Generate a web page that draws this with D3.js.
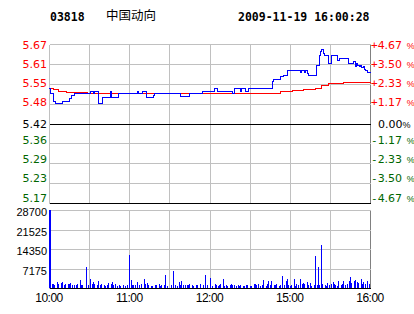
<!DOCTYPE html>
<html>
<head>
<meta charset="utf-8">
<script src="https://cdn.jsdelivr.net/npm/d3@7"></script>
<style>
  body { margin: 0; background: #fff; }
  svg { display: block; }
</style>
</head>
<body>
<div id="chart"></div>
<script>
const stockCode = "03818";
const stockName = "中国动向";
const stamp = "2009-11-19 16:00:28";
const prevClose = 5.42;

const pctTicks = [4.67, 3.50, 2.33, 1.17, 0, -1.17, -2.33, -3.50, -4.67];
const priceLabels = ["5.67", "5.61", "5.55", "5.48", "5.42", "5.36", "5.29", "5.23", "5.17"];
const pctLabels = ["4.67", "3.50", "2.33", "1.17", "0.00", "1.17", "2.33", "3.50", "4.67"];
const volTicks = [7175, 14350, 21525, 28700];
const timeTicks = [0, 60, 120, 180, 240];
const timeLabels = ["10:00", "11:00", "12:00", "15:00", "16:00"];

// [trading minute, price]
const price = [
  [0, 5.530], [1, 5.517], [3, 5.490], [5, 5.485], [10, 5.490], [15, 5.500], [17, 5.508],
  [19, 5.515], [31, 5.522], [33, 5.515], [34, 5.522], [37, 5.485], [40, 5.504], [46, 5.522],
  [47, 5.504], [52, 5.515], [66, 5.522], [67, 5.515], [70, 5.522], [73, 5.504], [78, 5.508],
  [79, 5.515], [98, 5.506], [105, 5.515], [115, 5.522], [124, 5.533], [126, 5.522], [137, 5.515],
  [139, 5.530], [143, 5.522], [144, 5.533], [147, 5.522], [149, 5.533], [167, 5.554], [168, 5.561],
  [173, 5.570], [175, 5.572], [178, 5.590], [188, 5.582], [189, 5.590], [191, 5.582], [192, 5.590],
  [193, 5.580], [194, 5.572], [200, 5.606], [202, 5.638], [203, 5.649], [204, 5.656], [205, 5.644],
  [206, 5.635], [209, 5.612], [211, 5.638], [216, 5.620], [217, 5.628], [224, 5.610], [228, 5.617],
  [229, 5.603], [230, 5.610], [231, 5.606], [232, 5.601], [233, 5.606], [234, 5.599], [235, 5.603],
  [236, 5.593], [237, 5.589], [238, 5.582], [240, 5.580]
];

const avgPrice = [
  [0, 5.532], [3, 5.527], [7, 5.523], [13, 5.520], [29, 5.517], [96, 5.514], [125, 5.517],
  [173, 5.522], [182, 5.524], [190, 5.527], [199, 5.532], [204, 5.540], [209, 5.546],
  [220, 5.549], [240, 5.551]
];

// [trading minute, shares]
const volume = [
  [0, 28700], [2, 1600], [3, 1600], [4, 1200], [6, 2200], [7, 1500], [9, 1800], [10, 2200],
  [11, 1200], [12, 1600], [14, 1500], [15, 1500], [16, 1800], [17, 1200], [19, 1200], [20, 1200],
  [21, 1500], [23, 3000], [24, 1200], [25, 1200], [28, 7800], [29, 1200], [31, 3400], [32, 1500],
  [33, 2200], [34, 1500], [36, 1200], [37, 2700], [38, 1200], [39, 1500], [41, 1200], [42, 600],
  [43, 1200], [44, 1800], [46, 1500], [47, 2200], [48, 1200], [49, 1500], [51, 900], [52, 1200],
  [53, 600], [55, 1200], [57, 600], [58, 1200], [60, 12000], [61, 3000], [62, 1200], [63, 1200],
  [64, 1200], [66, 2200], [67, 1200], [69, 1500], [71, 3400], [72, 1500], [73, 1800], [74, 1200],
  [76, 900], [77, 900], [79, 1200], [80, 1200], [82, 1500], [83, 900], [84, 1200], [86, 1200],
  [87, 4900], [88, 900], [91, 1200], [93, 6400], [94, 1200], [96, 900], [97, 2200], [98, 1200],
  [99, 2700], [100, 1200], [102, 1200], [103, 1200], [104, 1000], [105, 1500], [107, 1200],
  [108, 900], [110, 1200], [111, 1200], [113, 1500], [115, 1200], [117, 4900], [118, 1200],
  [120, 3700], [122, 900], [124, 1500], [125, 1200], [126, 900], [127, 1200], [128, 1500],
  [130, 3400], [131, 900], [132, 1200], [133, 900], [135, 1200], [136, 1500], [137, 1200],
  [138, 1200], [140, 900], [141, 1200], [142, 900], [143, 1200], [145, 900], [146, 900],
  [147, 1200], [148, 1200], [150, 900], [151, 900], [153, 1500], [154, 1500], [155, 1200],
  [156, 1500], [158, 900], [159, 1200], [160, 3000], [162, 900], [163, 1500], [164, 2500],
  [165, 1200], [166, 2700], [168, 1200], [169, 1200], [170, 1500], [172, 900], [173, 1200],
  [174, 4300], [176, 1200], [177, 2700], [178, 3400], [179, 1200], [180, 900], [181, 1200],
  [183, 3400], [184, 900], [185, 1500], [186, 1200], [188, 3400], [189, 1500], [190, 1700],
  [191, 1500], [193, 2200], [194, 1200], [195, 1800], [196, 900], [198, 1200], [199, 11600],
  [200, 1200], [201, 7600], [202, 1200], [203, 15900], [204, 1500], [206, 1200], [207, 900],
  [208, 1800], [209, 1200], [211, 1500], [212, 2200], [213, 1500], [214, 1200], [215, 900],
  [216, 2700], [218, 1200], [219, 1500], [220, 2500], [221, 1200], [223, 1500], [224, 2700],
  [225, 3900], [226, 1800], [228, 2500], [229, 3000], [230, 2200], [231, 1700], [233, 3400],
  [234, 1500], [235, 2200], [236, 1500], [238, 2700], [239, 1500]
];

const width = 414;
const height = 314;

const svg = d3.select("#chart")
  .append("svg")
  .attr("width", width)
  .attr("height", height);

const x = d3.scaleLinear().domain([0, 240]).range([49, 370]);
const y = d3.scaleLinear()
  .domain([prevClose * (1 - 0.0467), prevClose * (1 + 0.0467)])
  .range([203, 44]);
const yv = d3.scaleLinear().domain([0, 28700]).range([288, 210]);
// tick labels sit on an even spacing of their own
const labelY = d3.scaleLinear().domain([4.67, -4.67]).range([45, 197.5]);

const px = v => Math.round(v) + 0.5;
const pctPrice = p => prevClose * (1 + p / 100);
const tone = p => p > 0 ? "#ff0000" : p < 0 ? "#006600" : "#000000";

// header
svg.append("text")
  .attr("x", 50).attr("y", 20.5)
  .attr("font-family", "DejaVu Sans Mono").attr("font-weight", "bold").attr("font-size", 11.5)
  .text(stockCode);
svg.append("text")
  .attr("x", 106).attr("y", 19.5)
  .attr("font-family", "Noto Sans CJK SC").attr("font-size", 12.5)
  .text(stockName);
svg.append("text")
  .attr("x", 238).attr("y", 20.5)
  .attr("font-family", "DejaVu Sans Mono").attr("font-weight", "bold").attr("font-size", 11.5)
  .text(stamp);

const grid = svg.append("g").attr("shape-rendering", "crispEdges");
const vLines = d3.range(0, 241, 30);

// price panel grid
grid.selectAll(".pv").data(vLines).join("line")
  .attr("x1", d => px(x(d))).attr("x2", d => px(x(d)))
  .attr("y1", px(y.range()[1])).attr("y2", px(y.range()[0]))
  .attr("stroke", d => d === 240 ? "#808080" : "#c0c0c0");
grid.selectAll(".ph").data(pctTicks).join("line")
  .attr("x1", px(x(0))).attr("x2", px(x(240)))
  .attr("y1", d => px(y(pctPrice(d)))).attr("y2", d => px(y(pctPrice(d))))
  .attr("stroke", d => (d === 0 || d === -4.67) ? "#000000" : "#c0c0c0");

// volume panel grid
grid.selectAll(".vv").data(vLines).join("line")
  .attr("x1", d => px(x(d))).attr("x2", d => px(x(d)))
  .attr("y1", px(yv(28700))).attr("y2", px(yv(0)))
  .attr("stroke", d => d === 240 ? "#808080" : "#c0c0c0");
grid.selectAll(".vh").data([0].concat(volTicks)).join("line")
  .attr("x1", px(x(0))).attr("x2", px(x(240)))
  .attr("y1", d => px(yv(d))).attr("y2", d => px(yv(d)))
  .attr("stroke", d => d === 0 ? "#000000" : "#c0c0c0");

// volume bars
svg.append("g").attr("shape-rendering", "crispEdges")
  .selectAll("rect").data(volume).join("rect")
  .attr("x", d => Math.round(x(d[0])))
  .attr("width", d => d[0] === 0 ? 2 : 1)
  .attr("y", d => yv(d[1]))
  .attr("height", d => yv(0) - yv(d[1]))
  .attr("fill", "#0000ff");

// average and price lines
const line = d3.line()
  .x(d => x(d[0]))
  .y(d => y(d[1]))
  .curve(d3.curveStepAfter);

svg.append("path")
  .datum(avgPrice)
  .attr("fill", "none")
  .attr("stroke", "#ff0000")
  .attr("stroke-width", 1)
  .attr("shape-rendering", "crispEdges")
  .attr("d", line);

svg.append("path")
  .datum(price)
  .attr("fill", "none")
  .attr("stroke", "#0000ff")
  .attr("stroke-width", 1)
  .attr("shape-rendering", "crispEdges")
  .attr("d", line);

// left price labels
svg.append("g").selectAll("text").data(pctTicks).join("text")
  .attr("x", 47)
  .attr("y", d => (d === 0 ? y(prevClose) + 0.5 : labelY(d)) + 4)
  .attr("text-anchor", "end")
  .attr("font-family", "DejaVu Sans").attr("font-size", 11)
  .attr("fill", tone)
  .text((d, i) => priceLabels[i]);

// right percent labels
const pct = svg.append("g").selectAll("text").data(pctTicks).join("text")
  .attr("x", d => d === 0 ? 378 : 371)
  .attr("y", d => (d === 0 ? y(prevClose) + 0.5 : labelY(d)) + 4)
  .attr("font-family", "DejaVu Sans").attr("font-size", 11)
  .attr("fill", tone);
pct.filter(d => d !== 0).append("tspan")
  .attr("font-family", "DejaVu Sans Mono")
  .text(d => d > 0 ? "+" : "-");
pct.append("tspan").text((d, i) => pctLabels[i]);
pct.append("tspan")
  .attr("dx", d => d === 0 ? 0 : 2)
  .attr("font-family", "Liberation Sans").attr("font-size", 9)
  .text(d => d === 0 ? "%" : " %");

// volume labels
svg.append("g").selectAll("text").data(volTicks).join("text")
  .attr("x", 47)
  .attr("y", d => yv(d) + 6)
  .attr("text-anchor", "end")
  .attr("font-family", "Liberation Sans").attr("font-size", 11)
  .text(d => d);

// time labels
svg.append("g").selectAll("text").data(timeTicks).join("text")
  .attr("x", d => x(d))
  .attr("y", 302)
  .attr("text-anchor", "middle")
  .attr("font-family", "Liberation Sans").attr("font-size", 12)
  .attr("letter-spacing", -0.5)
  .text((d, i) => timeLabels[i]);
</script>
</body>
</html>
